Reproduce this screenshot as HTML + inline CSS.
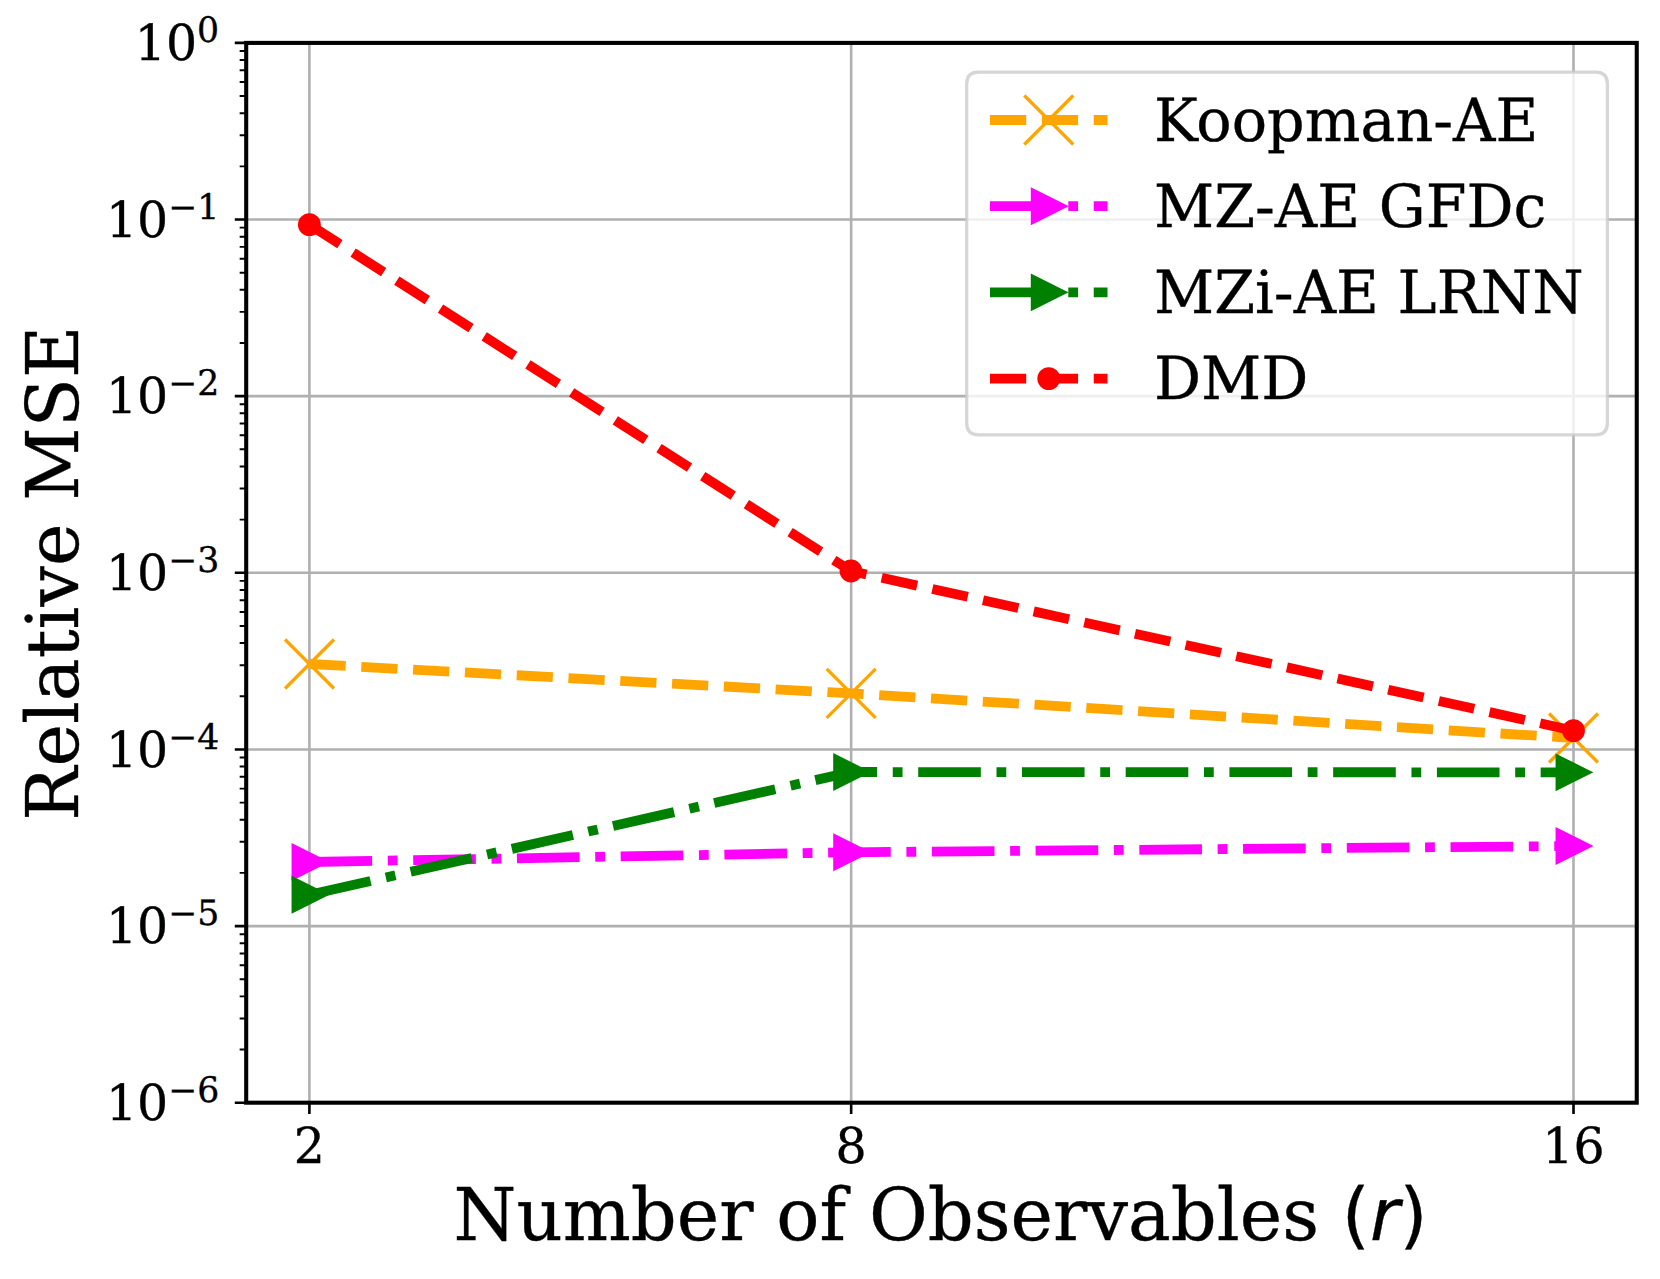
<!DOCTYPE html>
<html><head><meta charset="utf-8"><title>Relative MSE vs Number of Observables</title>
<style>html,body{margin:0;padding:0;background:#fff}svg{display:block}text{text-rendering:geometricPrecision;stroke:#000;stroke-width:0.35px}</style></head>
<body>
<svg width="1660" height="1279" viewBox="0 0 1660 1279">
<rect width="1660" height="1279" fill="#fff"/>
<path d="M309.40 42.9V1102.7M851.16 42.9V1102.7M1573.50 42.9V1102.7M246.2 42.90H1636.75M246.2 219.53H1636.75M246.2 396.17H1636.75M246.2 572.80H1636.75M246.2 749.43H1636.75M246.2 926.07H1636.75M246.2 1102.70H1636.75" stroke="#b0b0b0" stroke-width="2.61" fill="none"/>
<path d="M309.40 1102.7v11.42M851.16 1102.7v11.42M1573.50 1102.7v11.42M246.2 42.90h-11.42M246.2 219.53h-11.42M246.2 396.17h-11.42M246.2 572.80h-11.42M246.2 749.43h-11.42M246.2 926.07h-11.42M246.2 1102.70h-11.42" stroke="#000" stroke-width="2.61" fill="none"/>
<path d="M246.2 166.36h-6.53M246.2 135.26h-6.53M246.2 113.19h-6.53M246.2 96.07h-6.53M246.2 82.09h-6.53M246.2 70.26h-6.53M246.2 60.02h-6.53M246.2 50.98h-6.53M246.2 342.99h-6.53M246.2 311.89h-6.53M246.2 289.82h-6.53M246.2 272.71h-6.53M246.2 258.72h-6.53M246.2 246.89h-6.53M246.2 236.65h-6.53M246.2 227.62h-6.53M246.2 519.63h-6.53M246.2 488.52h-6.53M246.2 466.46h-6.53M246.2 449.34h-6.53M246.2 435.35h-6.53M246.2 423.53h-6.53M246.2 413.28h-6.53M246.2 404.25h-6.53M246.2 696.26h-6.53M246.2 665.16h-6.53M246.2 643.09h-6.53M246.2 625.97h-6.53M246.2 611.99h-6.53M246.2 600.16h-6.53M246.2 589.92h-6.53M246.2 580.88h-6.53M246.2 872.89h-6.53M246.2 841.79h-6.53M246.2 819.72h-6.53M246.2 802.61h-6.53M246.2 788.62h-6.53M246.2 776.79h-6.53M246.2 766.55h-6.53M246.2 757.52h-6.53M246.2 1049.53h-6.53M246.2 1018.42h-6.53M246.2 996.36h-6.53M246.2 979.24h-6.53M246.2 965.25h-6.53M246.2 953.43h-6.53M246.2 943.18h-6.53M246.2 934.15h-6.53" stroke="#000" stroke-width="1.96" fill="none"/>
<g clip-path="url(#c)">
<polyline points="309.50,664.00 851.15,693.40 1573.50,738.00" fill="none" stroke="#ffa500" stroke-width="9.79" stroke-dasharray="36.21 15.66" stroke-linejoin="round"/>
<path d="M285.02 639.52L333.98 688.48M285.02 688.48L333.98 639.52" stroke="#ffa500" stroke-width="3.26" fill="none"/>
<path d="M826.67 668.92L875.63 717.88M826.67 717.88L875.63 668.92" stroke="#ffa500" stroke-width="3.26" fill="none"/>
<path d="M1549.02 713.52L1597.98 762.48M1549.02 762.48L1597.98 713.52" stroke="#ffa500" stroke-width="3.26" fill="none"/>
<polyline points="309.50,862.00 851.15,852.30 1573.50,846.00" fill="none" stroke="#ff00ff" stroke-width="9.79" stroke-dasharray="62.63 15.66 9.79 15.66" stroke-linejoin="round"/>
<path d="M325.82 862.00L293.18 845.68L293.18 878.32Z" fill="#ff00ff" stroke="#ff00ff" stroke-width="3.26" stroke-linejoin="miter"/>
<path d="M867.47 852.30L834.83 835.98L834.83 868.62Z" fill="#ff00ff" stroke="#ff00ff" stroke-width="3.26" stroke-linejoin="miter"/>
<path d="M1589.82 846.00L1557.18 829.68L1557.18 862.32Z" fill="#ff00ff" stroke="#ff00ff" stroke-width="3.26" stroke-linejoin="miter"/>
<polyline points="309.50,894.75 851.15,772.00 1573.50,772.35" fill="none" stroke="#008000" stroke-width="9.79" stroke-dasharray="62.63 15.66 9.79 15.66" stroke-linejoin="round"/>
<path d="M325.82 894.75L293.18 878.43L293.18 911.07Z" fill="#008000" stroke="#008000" stroke-width="3.26" stroke-linejoin="miter"/>
<path d="M867.47 772.00L834.83 755.68L834.83 788.32Z" fill="#008000" stroke="#008000" stroke-width="3.26" stroke-linejoin="miter"/>
<path d="M1589.82 772.35L1557.18 756.03L1557.18 788.67Z" fill="#008000" stroke="#008000" stroke-width="3.26" stroke-linejoin="miter"/>
<polyline points="309.40,224.70 851.00,571.00 1573.50,730.70" fill="none" stroke="#ff0000" stroke-width="9.79" stroke-dasharray="36.21 15.66" stroke-linejoin="round"/>
<circle cx="309.40" cy="224.70" r="9.79" fill="#ff0000" stroke="#ff0000" stroke-width="3.26"/>
<circle cx="851.00" cy="571.00" r="9.79" fill="#ff0000" stroke="#ff0000" stroke-width="3.26"/>
<circle cx="1573.50" cy="730.70" r="9.79" fill="#ff0000" stroke="#ff0000" stroke-width="3.26"/>
</g>
<rect x="246.2" y="42.9" width="1390.55" height="1059.80" fill="none" stroke="#000" stroke-width="4.08" stroke-linejoin="miter"/>
<g style="font-family:'DejaVu Serif','Liberation Serif',serif;font-size:48.96px" fill="#000">
<text transform="translate(309.40 1163.3) scale(1 1.013)" text-anchor="middle">2</text>
<text transform="translate(851.16 1163.3) scale(1 1.013)" text-anchor="middle">8</text>
<text transform="translate(1573.50 1163.3) scale(1 1.013)" text-anchor="middle">16</text>
<text transform="translate(134.80 60.20) scale(1 1.012)">10<tspan dy="-17.9" style="font-size:34.66px">0</tspan></text>
<text transform="translate(105.90 236.83) scale(1 1.012)">10<tspan dy="-17.9" style="font-size:34.66px">−1</tspan></text>
<text transform="translate(105.90 413.47) scale(1 1.012)">10<tspan dy="-17.9" style="font-size:34.66px">−2</tspan></text>
<text transform="translate(105.90 590.10) scale(1 1.012)">10<tspan dy="-17.9" style="font-size:34.66px">−3</tspan></text>
<text transform="translate(105.90 766.73) scale(1 1.012)">10<tspan dy="-17.9" style="font-size:34.66px">−4</tspan></text>
<text transform="translate(105.90 943.37) scale(1 1.012)">10<tspan dy="-17.9" style="font-size:34.66px">−5</tspan></text>
<text transform="translate(105.90 1120.00) scale(1 1.012)">10<tspan dy="-17.9" style="font-size:34.66px">−6</tspan></text>
</g>
<text transform="translate(940.5 1239.7) scale(1 1.013)" text-anchor="middle" style="font-family:'DejaVu Serif','Liberation Serif',serif;font-size:71.81px">Number of Observables <tspan style="font-family:'DejaVu Sans','Liberation Sans',sans-serif">(<tspan style="font-style:italic">r</tspan>)</tspan></text>
<text transform="translate(77.7 573.1) rotate(-90) scale(1 1.012)" text-anchor="middle" style="font-family:'DejaVu Serif','Liberation Serif',serif;font-size:71.81px">Relative MSE</text>
<path d="M978.45 72.1H1595.65Q1607.4 72.1 1607.4 83.85V423.05Q1607.4 434.8 1595.65 434.8H978.45Q966.7 434.8 966.7 423.05V83.85Q966.7 72.1 978.45 72.1Z" fill="#fff" fill-opacity="0.8" stroke="#ccc" stroke-opacity="0.8" stroke-width="3.26"/>
<path d="M990.00 120.00H1107.50" stroke="#ffa500" stroke-width="9.79" stroke-dasharray="36.21 15.66" fill="none"/>
<path d="M1024.27 95.52L1073.23 144.48M1024.27 144.48L1073.23 95.52" stroke="#ffa500" stroke-width="3.26" fill="none"/>
<text transform="translate(1154.01 141.00) rotate(0.02) scale(1 1.011)" style="font-family:'DejaVu Serif','Liberation Serif',serif;font-size:58.75px">Koopman-AE</text>
<path d="M990.00 206.18H1107.50" stroke="#ff00ff" stroke-width="9.79" stroke-dasharray="62.63 15.66 9.79 15.66" fill="none"/>
<path d="M1065.07 206.18L1032.43 189.86L1032.43 222.50Z" fill="#ff00ff" stroke="#ff00ff" stroke-width="3.26" stroke-linejoin="miter"/>
<text transform="translate(1154.01 227.00) rotate(0.02) scale(1 1.011)" style="font-family:'DejaVu Serif','Liberation Serif',serif;font-size:58.75px">MZ-AE GFDc</text>
<path d="M990.00 292.37H1107.50" stroke="#008000" stroke-width="9.79" stroke-dasharray="62.63 15.66 9.79 15.66" fill="none"/>
<path d="M1065.07 292.37L1032.43 276.05L1032.43 308.69Z" fill="#008000" stroke="#008000" stroke-width="3.26" stroke-linejoin="miter"/>
<text transform="translate(1154.01 313.00) rotate(0.02) scale(1 1.011)" style="font-family:'DejaVu Serif','Liberation Serif',serif;font-size:58.75px">MZi-AE LRNN</text>
<path d="M990.00 378.55H1107.50" stroke="#ff0000" stroke-width="9.79" stroke-dasharray="36.21 15.66" fill="none"/>
<circle cx="1048.75" cy="378.55" r="9.79" fill="#ff0000" stroke="#ff0000" stroke-width="3.26"/>
<text transform="translate(1154.01 399.00) rotate(0.02) scale(1 1.011)" style="font-family:'DejaVu Serif','Liberation Serif',serif;font-size:58.75px">DMD</text>
<defs><clipPath id="c"><rect x="246.2" y="42.9" width="1390.55" height="1059.80"/></clipPath></defs>
</svg>
</body></html>
